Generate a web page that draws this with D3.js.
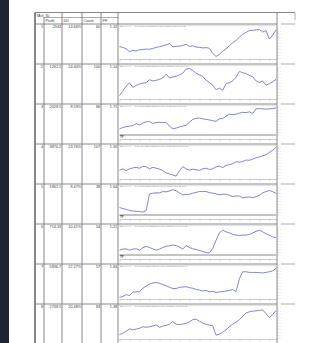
<!DOCTYPE html>
<html>
<head>
<meta charset="utf-8">
<script src="https://cdn.jsdelivr.net/npm/d3@7"></script>
<style>
body { margin: 0; background: #fff; overflow: hidden; }
svg { display: block; font-family: "Liberation Sans", Arial, sans-serif; }
</style>
</head>
<body>
<div id="chart"></div>
<script>
// table values
var ids = [1, 2, 3, 4, 5, 6, 7, 8];
var profits = ["2943", "1262.2", "2028.5", "3870.2", "1862.1", "714.33", "5836.7", "2738.5"];
var drawdowns = ["14.66%", "24.40%", "8.59%", "23.76%", "8.47%", "10.41%", "22.27%", "20.48%"];
var counts = ["60", "100", "86", "107", "38", "54", "57", "83"];
var pfs = ["1.32", "1.14", "1.71", "1.30", "1.64", "1.21", "1.84", "1.38"];
var headers = ["", "Profit", "DD", "Count", "PF"];

// equity curves, read as % of each small plot's height
var equity1 = [37, 35, 30, 21, 25, 23, 27, 28, 29, 29, 31, 35, 37, 40, 43, 47, 37, 38, 39, 41, 45, 38, 40, 36, 35, 33, 34, 32,
    15, 5, 12, 22, 30, 40, 50, 58, 68, 78, 84, 90, 91, 92, 93, 85, 90, 62, 75, 92];
var equity2 = [8, 22, 39, 50, 35, 41, 46, 49, 50, 60, 56, 58, 61, 66, 78, 66, 69, 71, 76, 81, 95, 97, 90, 81, 76, 71, 58, 51,
    42, 27, 32, 25, 47, 50, 56, 68, 87, 83, 80, 74, 70, 56, 51, 56, 42, 47, 53, 61];
var equity3 = [21, 26, 29, 31, 33, 40, 35, 42, 47, 48, 41, 44, 45, 44, 45, 31, 21, 24, 28, 31, 34, 45, 56, 60, 61, 58, 56, 54,
    51, 49, 58, 59, 68, 75, 74, 75, 79, 82, 81, 84, 78, 95, 96, 95, 94, 95, 96, 98];
var equity4 = [25, 30, 24, 30, 33, 35, 32, 38, 37, 30, 35, 32, 29, 24, 17, 13, 10, 6, 24, 37, 30, 26, 29, 27, 25, 30, 32, 28,
    30, 37, 39, 34, 41, 44, 47, 53, 52, 54, 59, 58, 62, 66, 69, 73, 76, 84, 91, 100];
var equity5 = [26, 22, 19, 15, 13, 12, 11, 9, 14, 76, 79, 80, 80, 85, 84, 87, 92, 88, 80, 73, 74, 75, 79, 82, 85, 85, 85, 81,
    79, 76, 73, 75, 75, 71, 66, 69, 68, 62, 64, 65, 62, 66, 71, 80, 85, 89, 85, 78];
var equity6 = [16, 20, 21, 16, 20, 21, 16, 25, 30, 26, 21, 16, 20, 26, 30, 32, 35, 33, 28, 20, 33, 26, 21, 19, 15, 11, 7, 6,
    22, 53, 80, 90, 84, 80, 75, 72, 70, 72, 72, 74, 80, 86, 90, 84, 77, 72, 65, 63];
var equity7 = [2, 5, 11, 8, 19, 20, 21, 32, 39, 46, 49, 51, 48, 44, 40, 35, 31, 31, 35, 36, 37, 34, 32, 28, 26, 23, 25, 20,
    22, 18, 20, 21, 23, 25, 28, 21, 63, 86, 86, 84, 84, 84, 83, 82, 84, 86, 89, 97];
var equity8 = [11, 16, 22, 30, 27, 29, 32, 37, 35, 37, 39, 43, 35, 39, 41, 45, 54, 45, 44, 46, 48, 53, 60, 62, 55, 49, 45, 42,
    40, 9, 13, 19, 27, 37, 45, 52, 60, 71, 82, 86, 88, 89, 91, 92, 80, 67, 77, 90];
var curves = [equity1, equity2, equity3, equity4, equity5, equity6, equity7, equity8];
var hasBase = [false, false, true, false, true, true, false, false];

var width = 312, height = 343;
var colEdges = [35, 44, 62, 82, 101, 118, 277, 295];
var lineColor = "#8185d2",
    gridColor = "#6a6a6a",
    textColor = "#3a3a3a";

var svg = d3.select("#chart").append("svg")
    .attr("width", width)
    .attr("height", height);

svg.append("rect").attr("width", width).attr("height", height).attr("fill", "#fff");
svg.append("rect").attr("width", 9).attr("height", height).attr("fill", "#1e2532");

var rowY = d3.scaleBand().domain(ids).range([24, 344]);

var table = svg.append("g").attr("stroke", gridColor).attr("stroke-width", 0.8);

// header block
table.append("line").attr("x1", 35).attr("x2", 295).attr("y1", 12.5).attr("y2", 12.5);
table.append("line").attr("x1", 44).attr("x2", 118).attr("y1", 17.5).attr("y2", 17.5).attr("stroke", "#999");
table.append("line").attr("x1", 295).attr("x2", 295).attr("y1", 12.5).attr("y2", 20).attr("stroke", "#999");

// vertical column lines
colEdges.slice(0, 7).forEach(function (x, i) {
    table.append("line")
        .attr("x1", x).attr("x2", x)
        .attr("y1", i === 1 ? 17 : 12.5).attr("y2", height)
        .attr("stroke-width", i === 0 ? 1.6 : 0.8);
});

// row separators
ids.forEach(function (id) {
    var y = rowY(id);
    table.append("line").attr("x1", 35).attr("x2", 277).attr("y1", y).attr("y2", y);
    table.append("line").attr("x1", 281).attr("x2", 295).attr("y1", y).attr("y2", y).attr("stroke", "#999");
});

svg.append("text").attr("x", 36).attr("y", 16.5)
    .attr("font-size", 3.8).attr("fill", textColor).text("TAG_ID");

headers.forEach(function (h, i) {
    svg.append("text").attr("x", colEdges[i] + 1.5).attr("y", 22)
        .attr("font-size", 3.8).attr("fill", textColor).text(h);
});

// data cells
var cellData = ids.map(function (id, i) {
    return [String(id), profits[i], drawdowns[i], counts[i], pfs[i]];
});

ids.forEach(function (id, r) {
    cellData[r].forEach(function (v, c) {
        svg.append("text")
            .attr("x", colEdges[c + 1] - 0.8)
            .attr("y", rowY(id) + 4.2)
            .attr("text-anchor", "end")
            .attr("font-size", 3.8)
            .attr("fill", textColor)
            .text(v);
    });
});

// small equity charts
var x = d3.scaleLinear().domain([0, equity1.length - 1]).range([119.5, 276]);

ids.forEach(function (id, r) {
    var top = rowY(id);
    var base = hasBase[r] ? top + 30.5 : top + 34;
    var y = d3.scaleLinear().domain([0, 100]).range([base, top + 3.5]);
    var g = svg.append("g").attr("class", "mini");

    g.append("line").attr("x1", 119).attr("x2", 277).attr("y1", top + 1.6).attr("y2", top + 1.6)
        .attr("stroke", "#ccc").attr("stroke-width", 0.6);

    // chart caption strip
    g.append("text").attr("x", 120).attr("y", top + 3.1).attr("font-size", 2.2).attr("fill", "#777").text("RW");
    g.append("text").attr("x", 125).attr("y", top + 3.1).attr("font-size", 2.2).attr("fill", "#4caf50").text("*** ***");
    g.append("text").attr("x", 133).attr("y", top + 3.1).attr("font-size", 2.2).attr("fill", "#888")
        .text("··  TAG_ID " + id + "  " + profits[r] + "  EQUITY  BALANCE  " + drawdowns[r] + "  " + counts[r] + "  " + pfs[r] + "  ·····");

    var xAxis = d3.axisBottom(x).tickValues(d3.range(0, 48, 3)).tickSize(1.5).tickFormat(function () { return "—"; });
    var ax = g.append("g").attr("transform", "translate(0," + (top + 35) + ")").call(xAxis);
    ax.select(".domain").attr("stroke", "#aaa").attr("stroke-width", 0.6);
    ax.selectAll(".tick line").attr("stroke", "#aaa").attr("stroke-width", 0.5);
    ax.selectAll(".tick text").attr("font-size", 2).attr("fill", "#999").attr("y", 2);

    var yAxis = d3.axisRight(y).ticks(8).tickSize(1.5).tickFormat(function () { return "—"; });
    var ay = g.append("g").attr("transform", "translate(277,0)").call(yAxis);
    ay.select(".domain").remove();
    ay.selectAll(".tick line").attr("stroke", "#999").attr("stroke-width", 0.5);
    ay.selectAll(".tick text").attr("font-size", 2.4).attr("fill", "#999").attr("x", 2.5);

    if (hasBase[r]) {
        g.append("line").attr("x1", 119.5).attr("x2", 276).attr("y1", base + 0.5).attr("y2", base + 0.5)
            .attr("stroke", "#555").attr("stroke-width", 0.7);
        g.append("text").attr("x", 120).attr("y", base + 3.2).attr("font-size", 2.8)
            .attr("font-weight", "bold").attr("fill", "#333").text("TP");
    }

    g.append("path")
        .datum(curves[r])
        .attr("fill", "none")
        .attr("stroke", lineColor)
        .attr("stroke-width", 1)
        .attr("stroke-linejoin", "round")
        .attr("d", d3.line()
            .x(function (d, i) { return x(i); })
            .y(function (d) { return y(d); }));
});
</script>
</body>
</html>
